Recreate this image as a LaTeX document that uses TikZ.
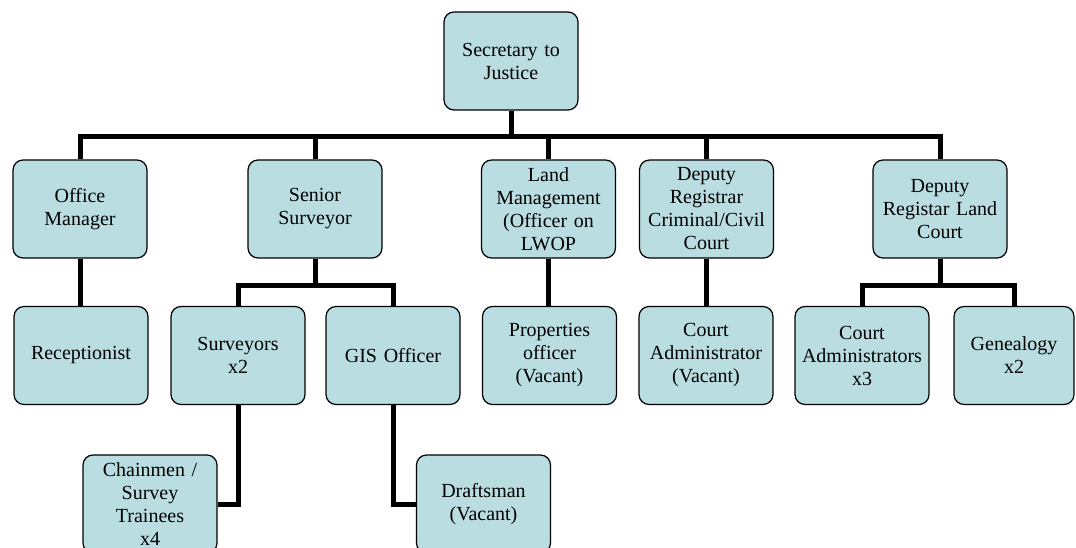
\documentclass[tikz,border=0pt]{standalone}
\usepackage{fontspec}
\setmainfont{Liberation Serif}
\usepackage{tikz}
\definecolor{postfill}{RGB}{185,221,225}
\tikzset{
  post/.style={draw=black, line width=1.2pt, fill=postfill, rounded corners=10pt,
    minimum width=134pt, minimum height=98pt, text width=126pt, align=center,
    inner sep=0pt, font=\fontsize{20}{23}\selectfont},
  link/.style={line width=5pt}
}

\begin{document}
\begin{tikzpicture}[x=1pt, y=-1pt]
  \useasboundingbox (0,0) rectangle (1076,548);
  \coordinate (bus) at (0,137);
  \coordinate (sub) at (0,285);

  \node[post] (sec) at (511,61) {Secretary to\\Justice};

  \node[post] (om) at (80,209) {Office\\Manager};
  \node[post] (ss) at (315,209) {Senior\\Surveyor};
  \node[post] (lm) at (548.5,209) {Land\\Management\\(Officer on\\LWOP};
  \node[post] (dr) at (706.5,209) {Deputy\\Registrar\\Criminal/Civil\\Court};
  \node[post] (dl) at (940,209) {Deputy\\Registar Land\\Court};

  \node[post] (rec) at (81,355.5) {Receptionist};
  \node[post] (sv) at (238,355.5) {Surveyors\\x2};
  \node[post] (gis) at (393,355.5) {GIS Officer};
  \node[post] (po) at (549.5,355.5) {Properties\\officer\\(Vacant)};
  \node[post] (ca) at (706,355.5) {Court\\Administrator\\(Vacant)};
  \node[post] (ca3) at (862,355.5) {Court\\Administrators\\x3};
  \node[post, minimum width=120pt, text width=116pt] (gen) at (1014,355.5) {Genealogy\\x2};

  \node[post] (cm) at (150,504) {Chainmen /\\Survey\\Trainees\\x4};
  \node[post] (dm) at (483.5,504) {Draftsman\\(Vacant)};

  \draw[link] (sec.south) -- (sec.south |- bus);
  \draw[link] (om.north) -- (om.north |- bus) -- (dl.north |- bus) -- (dl.north);
  \draw[link] (ss.north) -- (ss.north |- bus);
  \draw[link] (lm.north) -- (lm.north |- bus);
  \draw[link] (dr.north) -- (dr.north |- bus);

  \draw[link] (om.south) -- (om.south |- rec.north);
  \draw[link] (ss.south) -- (ss.south |- sub);
  \draw[link] (sv.north) -- (sv.north |- sub) -- (gis.north |- sub) -- (gis.north);
  \draw[link] (lm.south) -- (lm.south |- po.north);
  \draw[link] (dr.south) -- (dr.south |- ca.north);
  \draw[link] (dl.south) -- (dl.south |- sub);
  \draw[link] (ca3.north) -- (ca3.north |- sub) -- (gen.north |- sub) -- (gen.north);

  \draw[link] (sv.south) |- (cm.east);
  \draw[link] (gis.south) |- (dm.west);
\end{tikzpicture}
\end{document}
